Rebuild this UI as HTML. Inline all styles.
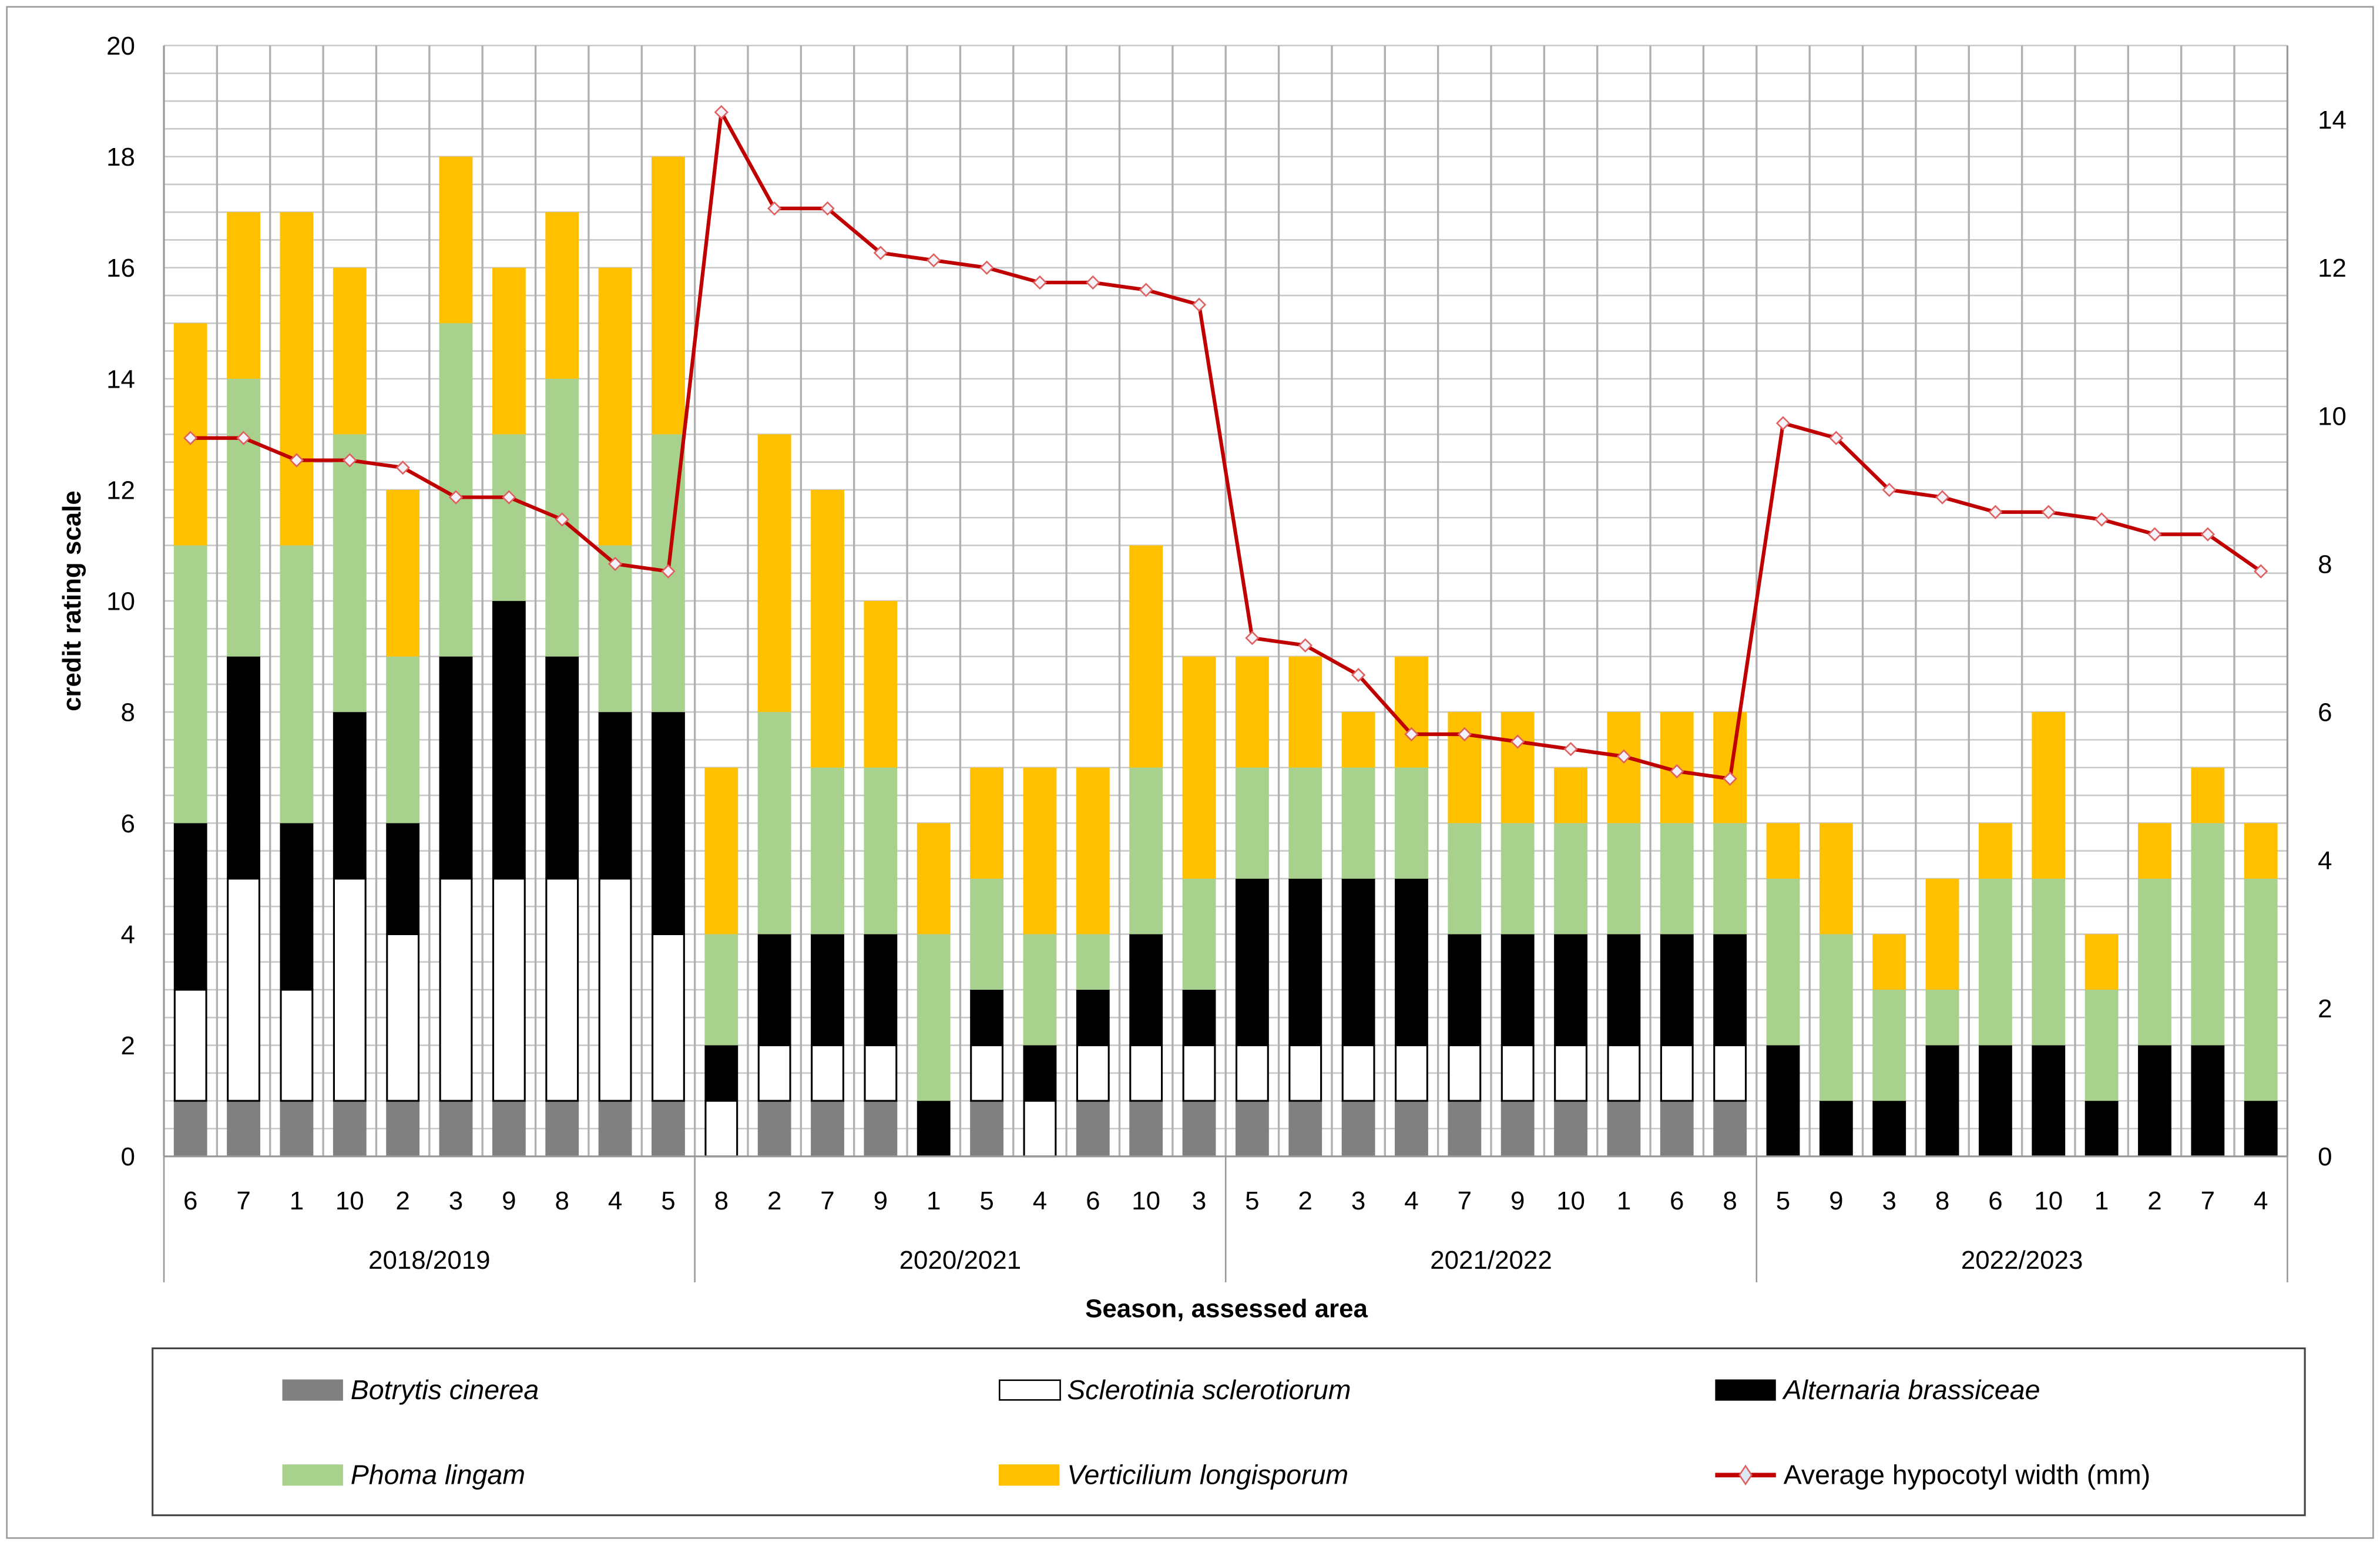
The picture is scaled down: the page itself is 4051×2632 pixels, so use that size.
<!DOCTYPE html>
<html><head><meta charset="utf-8"><style>
html,body{margin:0;padding:0;background:#fff}
svg{display:block}
text{font-family:"Liberation Sans Narrow","Liberation Sans",sans-serif;fill:#000}
</style></head><body>
<svg id="chart" xmlns="http://www.w3.org/2000/svg" width="4051" height="2632" viewBox="0 0 1568 1018.75">
<rect x="0" y="0" width="1568" height="1018.75" fill="#fff"/>
<rect x="4.5" y="4.5" width="1559" height="1009" fill="none" stroke="#9a9a9a" stroke-width="1"/>
<g id="grid"></g><g id="bars"></g><g id="line"></g><g id="axes"></g>
<text x="808" y="868" font-size="17" font-weight="bold" text-anchor="middle" font-family="Liberation Sans, sans-serif">Season, assessed area</text>
<text transform="translate(53,396) rotate(-90)" font-size="17" font-weight="bold" text-anchor="middle" font-family="Liberation Sans, sans-serif">credit rating scale</text>
<g>
<rect x="100.5" y="888.5" width="1418" height="110" fill="#fff" stroke="#444" stroke-width="1.2"/>
<g><rect x="186" y="909" width="40" height="14" fill="#808080"/><text x="231" y="922" font-size="18" font-style="italic">Botrytis cinerea</text></g>
<g><rect x="658.5" y="909.5" width="40" height="13" fill="#fff" stroke="#000"/><text x="703" y="922" font-size="18" font-style="italic">Sclerotinia sclerotiorum</text></g>
<g><rect x="1130" y="909" width="40" height="14" fill="#000"/><text x="1175" y="922" font-size="18" font-style="italic">Alternaria brassiceae</text></g>
<g><rect x="186" y="965" width="40" height="14" fill="#a9d18e"/><text x="231" y="978" font-size="18" font-style="italic">Phoma lingam</text></g>
<g><rect x="658" y="965" width="40" height="14" fill="#ffc000"/><text x="703" y="978" font-size="18" font-style="italic">Verticilium longisporum</text></g>
<g><line x1="1130" y1="972" x2="1170" y2="972" stroke="#c00000" stroke-width="3"/><path d="M1150 966 L1154 972 L1150 978 L1146 972Z" fill="#dce9f5" stroke="#e06060" stroke-width="1"/><text x="1175" y="978" font-size="18">Average hypocotyl width (mm)</text></g>
</g>
</svg>
<script>
const areas = [6,7,1,10,2,3,9,8,4,5, 8,2,7,9,1,5,4,6,10,3, 5,2,3,4,7,9,10,1,6,8, 5,9,3,8,6,10,1,2,7,4];
const seasons = ["2018/2019","2020/2021","2021/2022","2022/2023"];
const botrytis =    [1,1,1,1,1,1,1,1,1,1, 0,1,1,1,0,1,0,1,1,1, 1,1,1,1,1,1,1,1,1,1, 0,0,0,0,0,0,0,0,0,0];
const sclerotinia = [2,4,2,4,3,4,4,4,4,3, 1,1,1,1,0,1,1,1,1,1, 1,1,1,1,1,1,1,1,1,1, 0,0,0,0,0,0,0,0,0,0];
const alternaria =  [3,4,3,3,2,4,5,4,3,4, 1,2,2,2,1,1,1,1,2,1, 3,3,3,3,2,2,2,2,2,2, 2,1,1,2,2,2,1,2,2,1];
const phoma =       [5,5,5,5,3,6,3,5,3,5, 2,4,3,3,3,2,2,1,3,2, 2,2,2,2,2,2,2,2,2,2, 3,3,2,1,3,3,2,3,4,4];
const verticillium =[4,3,6,3,3,3,3,3,5,5, 3,5,5,3,2,2,3,3,4,4, 2,2,1,2,2,2,1,2,2,2, 1,2,1,2,1,3,1,1,1,1];
const hypocotyl = [9.7,9.7,9.4,9.4,9.3,8.9,8.9,8.6,8.0,7.9, 14.1,12.8,12.8,12.2,12.1,12.0,11.8,11.8,11.7,11.5, 7.0,6.9,6.5,5.7,5.7,5.6,5.5,5.4,5.2,5.1, 9.9,9.7,9.0,8.9,8.7,8.7,8.6,8.4,8.4,7.9];
const leftTicks = [0,2,4,6,8,10,12,14,16,18,20];
const rightTicks = [0,2,4,6,8,10,12,14];

const NS="http://www.w3.org/2000/svg";
const X0=108,X1=1507,Y0=762,Y1=30;
const n=areas.length, cw=(X1-X0)/n, bw=22;
const yL=v=>Y0-(v/20)*(Y0-Y1);
const yR=v=>Y0-(v/15)*(Y0-Y1);
const xC=i=>X0+cw*(i+0.5);
function mk(tag,attrs,parent){const e=document.createElementNS(NS,tag);for(const k in attrs)e.setAttribute(k,attrs[k]);parent.appendChild(e);return e;}
const grid=document.getElementById('grid'),bars=document.getElementById('bars'),lineG=document.getElementById('line'),axes=document.getElementById('axes');
for(let v=0;v<=20;v+=0.5){const l=mk('line',{x1:X0,x2:X1,y1:yL(v),y2:yL(v),stroke:'#c8c8c8','stroke-width':1},grid);

}
for(let i=0;i<=n;i++){const x=X0+cw*i;const l=mk('line',{x1:x,x2:x,y1:Y1,y2:Y0,stroke:'#b0b0b0','stroke-width':1.3},grid);

}
const series=[[botrytis,'#808080',null,'botrytis'],[sclerotinia,'#fff','#000','sclerotinia'],[alternaria,'#000',null,'alternaria'],[phoma,'#a9d18e',null,'phoma'],[verticillium,'#ffc000',null,'verticillium']];
for(let i=0;i<n;i++){let base=0;for(const [arr,fill,stroke,name] of series){const v=arr[i];if(v>0){const a={x:xC(i)-bw/2,y:yL(base+v),width:bw,height:yL(base)-yL(base+v),fill:fill};if(stroke){a.stroke=stroke;a['stroke-width']=1.2;a.x+=0.6;a.width-=1.2;}const r=mk('rect',a,bars);

}base+=v;}}
const pts=hypocotyl.map((v,i)=>xC(i)+','+yR(v)).join(' ');
const pl=mk('polyline',{points:pts,fill:'none',stroke:'#c00000','stroke-width':2.4},lineG);


hypocotyl.forEach((v,i)=>{const x=xC(i),y=yR(v);const d=mk('path',{d:`M${x} ${y-4}L${x+4} ${y}L${x} ${y+4}L${x-4} ${y}Z`,fill:'#f2f2f8',stroke:'#e06060','stroke-width':1},lineG);

});
mk('line',{x1:X0,x2:X0,y1:Y1,y2:845,stroke:'#999','stroke-width':1},axes);
mk('line',{x1:X1,x2:X1,y1:Y1,y2:845,stroke:'#999','stroke-width':1},axes);
mk('line',{x1:X0,x2:X1,y1:Y0,y2:Y0,stroke:'#999','stroke-width':1.2},axes);
leftTicks.forEach(v=>{const t=mk('text',{x:89,y:yL(v)+6,'font-size':17,'text-anchor':'end'},axes);t.textContent=v;

});
rightTicks.forEach(v=>{const t=mk('text',{x:1527,y:yR(v)+6,'font-size':17},axes);t.textContent=v;

});
areas.forEach((a,i)=>{const t=mk('text',{x:xC(i),y:797,'font-size':17,'text-anchor':'middle'},axes);t.textContent=a;

});
const per=n/seasons.length;
seasons.forEach((s,k)=>{const x=X0+cw*per*(k+0.5);const t=mk('text',{x:x,y:836,'font-size':17,'text-anchor':'middle'},axes);t.textContent=s;


if(k>0){const xs=X0+cw*per*k;mk('line',{x1:xs,x2:xs,y1:Y0,y2:845,stroke:'#999','stroke-width':1},axes);}});
</script>
</body></html>
